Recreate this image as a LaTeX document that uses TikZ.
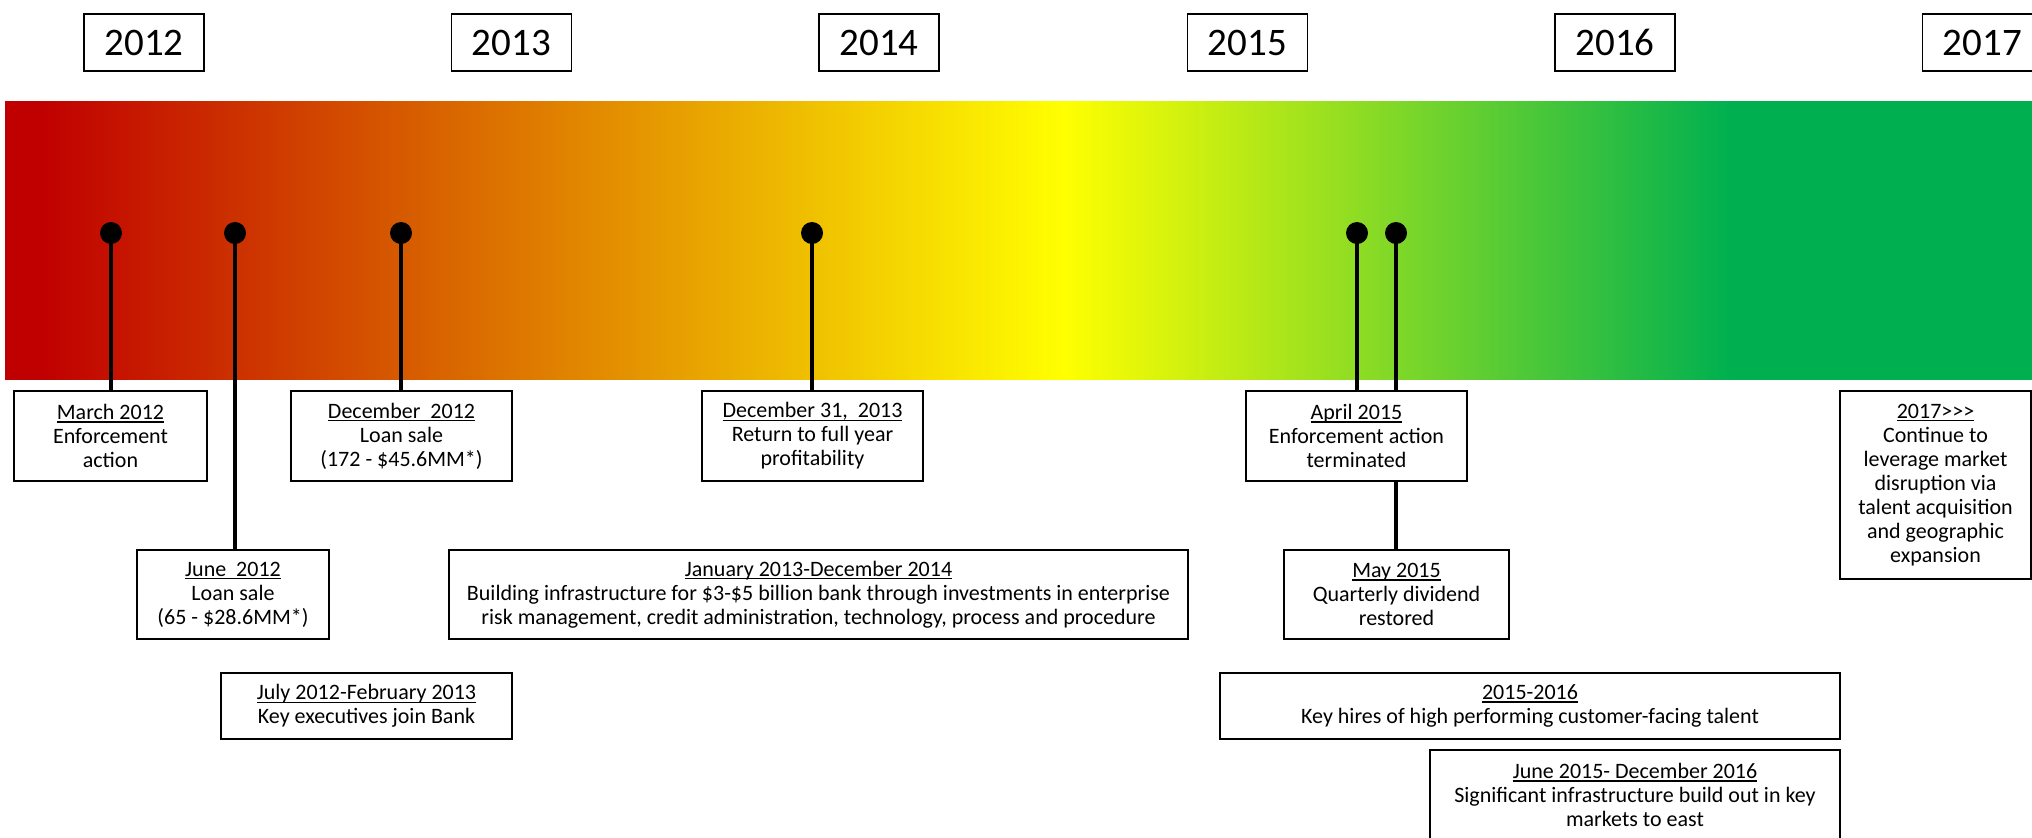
\documentclass[tikz,border=0pt]{standalone}
\usepackage{fontspec}
\setmainfont{Carlito}
\definecolor{cred}{HTML}{C00000}
\definecolor{cyel}{HTML}{FFFF00}
\definecolor{cgrn}{HTML}{00B050}
\pgfdeclarehorizontalshading{ramp}{100bp}{color(0bp)=(cred); color(25.9bp)=(cred); color(51.1bp)=(cyel); color(67.55bp)=(cgrn); color(100bp)=(cgrn)}
\newsavebox\ulbox
\newcommand{\uln}[1]{\sbox\ulbox{#1}\rlap{\rule[-1.5pt]{\wd\ulbox}{0.6pt}}\usebox\ulbox}
\tikzset{
 yearbox/.style={draw, line width=0.8pt, fill=white, minimum width=60pt, minimum height=28.5pt, inner sep=0pt, font=\fontsize{19.5}{23}\selectfont},
 evbox/.style={draw, line width=0.8pt, fill=white, inner sep=0pt, align=center, font=\fontsize{11}{12}\selectfont},
 dot/.style={circle, fill=black, inner sep=0pt, minimum size=11pt},
 pin/.style={line width=1.8pt}
}
\begin{document}
\begin{tikzpicture}[x=0.5pt,y=-0.5pt]
\useasboundingbox (0,0) rectangle (2032,837);
\clip (0,0) rectangle (2032,837);
\shade[shading=ramp] (5,101) rectangle (2032,379);
% years
\node[yearbox] (y2012) at (144,42.5) {2012};
\node[yearbox] (y2013) at (511.5,42.5) {2013};
\node[yearbox] (y2014) at (879,42.5) {2014};
\node[yearbox] (y2015) at (1247.5,42.5) {2015};
\node[yearbox] (y2016) at (1615,42.5) {2016};
\node[yearbox] (y2017) at (1982.5,42.5) {2017};
% dots
\node[dot] (d1) at (111,233) {};
\node[dot] (d2) at (235,233) {};
\node[dot] (d3) at (401,233) {};
\node[dot] (d4) at (812,233) {};
\node[dot] (d5) at (1357,233) {};
\node[dot] (d6) at (1396,233) {};
% event boxes
\node[evbox, minimum width=96.5pt, minimum height=45pt] (march) at (110.5,436) {\uln{March 2012}\\Enforcement\\action};
\node[evbox, minimum width=110.5pt, minimum height=45pt] (dec12) at (401.5,436) {\uln{December\ \ 2012}\\Loan sale\\(172 - \$45.6MM*)};
\node[evbox, minimum width=110.5pt, minimum height=45pt] (dec13) at (812.5,436) {\uln{December 31,\ \ 2013}\\Return to full year\\profitability};
\node[evbox, minimum width=110.5pt, minimum height=45pt] (apr15) at (1356.5,436) {\uln{April 2015}\\Enforcement action\\terminated};
\node[evbox, minimum width=95.5pt, minimum height=94pt] (y17ev) at (1935.5,485) {\uln{2017>{}>{}>}\\Continue to\\leverage market\\disruption via\\talent acquisition\\and geographic\\expansion};
\node[evbox, minimum width=96pt, minimum height=44.5pt] (jun12) at (233,594.5) {\uln{June\ \ 2012}\\Loan sale\\(65 - \$28.6MM*)};
\node[evbox, minimum width=369.5pt, minimum height=44.5pt] (jan13) at (818.5,594.5) {\uln{January 2013-December 2014}\\Building infrastructure for \$3-\$5 billion bank through investments in enterprise\\risk management, credit administration, technology, process and procedure};
\node[evbox, minimum width=112.5pt, minimum height=44.5pt] (may15) at (1396.5,594.5) {\uln{May 2015}\\Quarterly dividend\\restored};
\node[evbox, minimum width=145.5pt, minimum height=33pt] (jul12) at (366.5,706) {\uln{July 2012-February 2013}\\Key executives join Bank};
\node[evbox, minimum width=310pt, minimum height=33pt] (hires) at (1530,706) {\uln{2015-2016}\\Key hires of high performing customer-facing talent};
\node[evbox, minimum width=205pt, minimum height=45pt] (jun15) at (1635,795) {\uln{June 2015- December 2016}\\Significant infrastructure build out in key\\markets to east};
% pins
\draw[pin] (d1.center) -- (d1 |- march.north);
\draw[pin] (d2.center) -- (d2 |- jun12.north);
\draw[pin] (d3.center) -- (d3 |- dec12.north);
\draw[pin] (d4.center) -- (d4 |- dec13.north);
\draw[pin] (d5.center) -- (d5 |- apr15.north);
\draw[pin] (d6.center) -- (d6 |- apr15.north);
\draw[pin] (apr15.south -| d6) -- (may15.north -| d6);
\end{tikzpicture}
\end{document}
